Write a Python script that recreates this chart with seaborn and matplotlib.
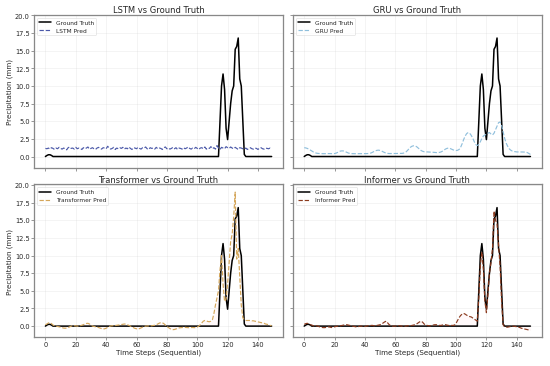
import numpy as np
import pandas as pd
import matplotlib
matplotlib.use("Agg")
import matplotlib.pyplot as plt
import seaborn as sns

steps = list(range(150))

ground_truth = [0.0, 0.15, 0.25, 0.25, 0.15] + [0.0] * 110 + [
    5.0, 10.0, 11.7, 9.5, 4.0, 2.4, 5.0, 7.5, 9.3, 10.0,
    15.2, 15.6, 16.8, 11.0, 10.0, 5.0, 0.3] + [0.0] * 18

lstm_pred = [
    1.15, 1.10, 1.20, 1.05, 1.25, 1.15, 1.00, 1.20, 1.10, 1.30,
    1.15, 1.05, 1.20, 1.10, 0.95, 1.25, 1.35, 1.15, 1.20, 1.05,
    1.30, 1.10, 1.20, 1.15, 1.00, 1.25, 1.10, 1.20, 1.35, 1.05,
    1.15, 1.25, 1.10, 1.00, 1.20, 1.30, 1.15, 1.05, 1.25, 1.20,
    1.10, 1.45, 1.20, 1.05, 1.15, 1.30, 1.00, 1.20, 1.10, 1.25,
    1.15, 1.30, 1.05, 1.20, 1.10, 1.35, 1.15, 1.00, 1.25, 1.20,
    1.10, 1.30, 1.15, 1.05, 1.25, 1.20, 1.35, 1.10, 1.00, 1.25,
    1.15, 1.20, 1.05, 1.30, 1.10, 1.20, 1.15, 1.00, 1.25, 1.35,
    1.10, 1.20, 1.05, 1.15, 1.30, 1.10, 1.25, 1.00, 1.20, 1.15,
    1.05, 1.25, 1.10, 1.20, 1.35, 1.15, 1.05, 1.20, 1.10, 1.30,
    1.15, 1.00, 1.20, 1.25, 1.10, 1.35, 1.05, 1.20, 1.15, 1.40,
    1.10, 1.25, 1.05, 1.55, 1.20, 1.00, 1.30, 1.20, 1.10, 1.40,
    1.25, 1.15, 1.35, 1.20, 1.10, 1.30, 1.15, 1.00, 1.25, 1.20,
    1.10, 1.05, 1.20, 1.00, 1.15, 1.25, 1.10, 1.05, 1.20, 1.15,
    1.00, 1.20, 1.25, 1.10, 1.05, 1.20, 1.15, 1.10, 1.20, 1.05]

gru_pred = [
    1.25, 1.22, 1.15, 1.05, 0.92, 0.78, 0.65, 0.55, 0.48, 0.44,
    0.42, 0.41, 0.40, 0.40, 0.41, 0.42, 0.42, 0.41, 0.40, 0.40,
    0.42, 0.48, 0.58, 0.70, 0.78, 0.80, 0.78, 0.70, 0.60, 0.50,
    0.44, 0.41, 0.40, 0.40, 0.40, 0.40, 0.41, 0.41, 0.40, 0.40,
    0.40, 0.41, 0.42, 0.44, 0.50, 0.60, 0.72, 0.82, 0.88, 0.90,
    0.86, 0.78, 0.66, 0.56, 0.48, 0.44, 0.42, 0.42, 0.42, 0.43,
    0.43, 0.43, 0.44, 0.44, 0.44, 0.46, 0.52, 0.65, 0.85, 1.10,
    1.32, 1.46, 1.52, 1.50, 1.40, 1.22, 1.02, 0.85, 0.74, 0.68,
    0.66, 0.65, 0.64, 0.63, 0.62, 0.60, 0.58, 0.56, 0.56, 0.58,
    0.64, 0.75, 0.90, 1.05, 1.15, 1.20, 1.15, 1.05, 0.95, 0.88,
    0.85, 0.88, 1.00, 1.30, 1.80, 2.40, 2.90, 3.25, 3.40, 3.30,
    3.00, 2.60, 2.10, 1.70, 1.55, 1.70, 2.10, 2.55, 2.90, 3.05,
    3.15, 3.30, 3.40, 3.20, 3.05, 3.30, 3.80, 4.30, 4.80, 4.90,
    4.40, 3.50, 2.60, 1.90, 1.45, 1.10, 0.90, 0.78, 0.72, 0.68,
    0.65, 0.65, 0.65, 0.64, 0.64, 0.63, 0.62, 0.55, 0.42, 0.30]

transformer_pred = [
    0.20, 0.30, 0.45, 0.50, 0.35, 0.15, 0.05, 0.00, -0.05, -0.10,
    -0.15, -0.22, -0.28, -0.30, -0.28, -0.20, -0.10, 0.00, 0.05, 0.05,
    0.02, 0.00, 0.00, 0.05, 0.12, 0.20, 0.30, 0.38, 0.40, 0.30,
    0.15, 0.00, -0.05, -0.10, -0.15, -0.20, -0.28, -0.35, -0.40, -0.38,
    -0.30, -0.18, -0.05, 0.02, 0.05, 0.05, 0.08, 0.12, 0.15, 0.18,
    0.22, 0.26, 0.30, 0.28, 0.20, 0.10, 0.00, -0.10, -0.22, -0.32,
    -0.38, -0.40, -0.35, -0.25, -0.15, -0.05, 0.00, 0.02, 0.03, 0.04,
    0.05, 0.08, 0.12, 0.20, 0.30, 0.42, 0.50, 0.48, 0.35, 0.15,
    -0.05, -0.20, -0.35, -0.45, -0.50, -0.48, -0.40, -0.32, -0.25, -0.22,
    -0.20, -0.18, -0.18, -0.20, -0.22, -0.22, -0.20, -0.20, -0.22, -0.20,
    -0.15, 0.00, 0.20, 0.45, 0.70, 0.80, 0.75, 0.65, 0.62, 0.70,
    0.90, 1.80, 3.00, 4.00, 5.00, 8.00, 10.00, 6.00, 3.50, 3.80,
    6.00, 9.00, 12.00, 13.00, 15.50, 19.00, 9.50, 11.00, 7.00, 3.00,
    1.20, 0.90, 0.80, 0.80, 0.80, 0.80, 0.75, 0.75, 0.70, 0.65,
    0.60, 0.55, 0.50, 0.45, 0.40, 0.30, 0.25, 0.20, 0.10, 0.05]

informer_pred = [
    0.25, 0.35, 0.40, 0.30, 0.20, 0.15, 0.05, 0.00, 0.05, 0.00,
    -0.10, -0.15, -0.20, -0.22, -0.20, -0.15, -0.10, -0.15, -0.20, -0.15,
    -0.10, -0.05, 0.00, 0.00, 0.05, 0.10, 0.15, 0.20, 0.20, 0.15,
    0.10, 0.05, 0.00, -0.05, -0.10, -0.10, -0.05, 0.00, 0.00, -0.05,
    -0.05, 0.00, 0.05, 0.05, 0.10, 0.10, 0.05, 0.05, 0.10, 0.15,
    0.20, 0.30, 0.45, 0.60, 0.70, 0.45, 0.20, 0.05, 0.00, 0.00,
    0.00, 0.00, 0.05, 0.05, 0.00, 0.00, 0.00, 0.00, 0.05, 0.05,
    0.05, 0.10, 0.15, 0.20, 0.30, 0.45, 0.60, 0.70, 0.55, 0.30,
    0.15, 0.10, 0.05, 0.05, 0.10, 0.15, 0.20, 0.20, 0.15, 0.10,
    0.10, 0.15, 0.20, 0.20, 0.15, 0.10, 0.10, 0.10, 0.10, 0.15,
    0.40, 0.80, 1.20, 1.50, 1.70, 1.80, 1.70, 1.55, 1.45, 1.35,
    1.30, 1.15, 1.00, 0.85, 0.70, 4.00, 8.50, 10.50, 8.00, 3.50,
    1.90, 4.50, 7.50, 9.00, 11.00, 16.30, 15.00, 14.50, 11.50, 8.50,
    3.50, 0.20, -0.10, -0.15, -0.15, -0.10, -0.05, 0.00, 0.00, -0.05,
    -0.10, -0.15, -0.20, -0.30, -0.35, -0.40, -0.45, -0.50, -0.55, -0.55]

models = ["LSTM", "GRU", "Transformer", "Informer"]
preds = [lstm_pred, gru_pred, transformer_pred, informer_pred]
colors = ["#4a58a8", "#8fbfdc", "#d4a65a", "#8b3a1e"]
shade = [False, False, True, True]

sns.set_style("whitegrid")
fig, axes = plt.subplots(2, 2, figsize=(15, 10), dpi=550 / 15, sharex=True, sharey=True)

for ax, name, pred, col, sh in zip(axes.flat, models, preds, colors, shade):
    df = pd.DataFrame({"step": steps, "gt": ground_truth, "pred": pred})
    sns.lineplot(data=df, x="step", y="gt", ax=ax, color="black", linewidth=3.0, label="Ground Truth")
    sns.lineplot(data=df, x="step", y="pred", ax=ax, color=col, linewidth=2.3,
                 linestyle="--", label=f"{name} Pred")
    if sh:
        ax.fill_between(df["step"], df["gt"], df["pred"], color="#ff6080", alpha=0.035, linewidth=0)
    ax.set_title(f"{name} vs Ground Truth", fontsize=16.5, pad=4)
    ax.grid(True, alpha=0.4, color="#cccccc", linewidth=1)
    ax.legend(loc="upper left", fontsize=11.5, frameon=True)
    ax.set_xlabel("")
    ax.set_ylabel("")
    ax.tick_params(axis="both", labelsize=13, length=5, width=1.3, color="#666666", bottom=True, left=True)
    for s in ax.spines.values():
        s.set_color("#888888")
        s.set_linewidth(2.5)

for ax in axes[1]:
    ax.set_xlabel("Time Steps (Sequential)", fontsize=14, labelpad=2)
for ax in axes[:, 0]:
    ax.set_ylabel("Precipitation (mm)", fontsize=14, labelpad=3)

axes[0, 0].set_xticks([0, 20, 40, 60, 80, 100, 120, 140])
axes[0, 0].set_ylim(-1.6, 20.1)
fig.subplots_adjust(left=0.062, right=0.985, top=0.958, bottom=0.078, wspace=0.04, hspace=0.108)
fig.savefig("out.png", dpi=550 / 15)
